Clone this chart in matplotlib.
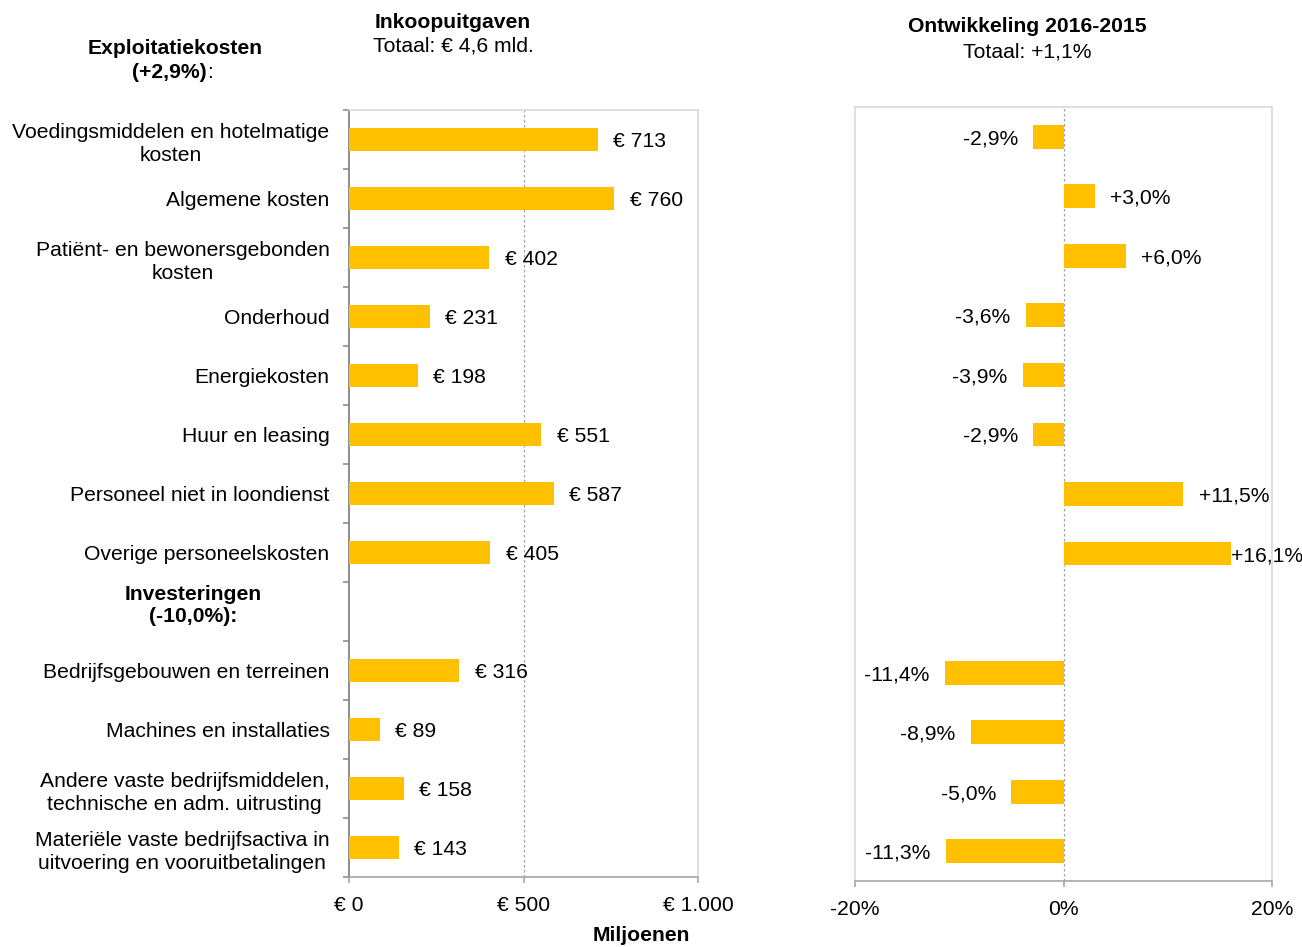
import matplotlib
matplotlib.use("Agg")
import matplotlib.pyplot as plt
import numpy as np

plt.rcParams['font.family'] = ['Liberation Sans', 'DejaVu Sans']

categories = [
    "Voedingsmiddelen en hotelmatige\nkosten",
    "Algemene kosten",
    "Patiënt- en bewonersgebonden\nkosten",
    "Onderhoud",
    "Energiekosten",
    "Huur en leasing",
    "Personeel niet in loondienst",
    "Overige personeelskosten",
    "",
    "Bedrijfsgebouwen en terreinen",
    "Machines en installaties",
    "Andere vaste bedrijfsmiddelen,\ntechnische en adm. uitrusting",
    "Materiële vaste bedrijfsactiva in\nuitvoering en vooruitbetalingen",
]
spend = [713, 760, 402, 231, 198, 551, 587, 405, None, 316, 89, 158, 143]
change = [-2.9, 3.0, 6.0, -3.6, -3.9, -2.9, 11.5, 16.1, None, -11.4, -8.9, -5.0, -11.3]
left_xticks = [0, 500, 1000]
left_xticklabels = ["€ 0", "€ 500", "€ 1.000"]
right_xticks = [-20, 0, 20]
right_xticklabels = ["-20%", "0%", "20%"]

BAR = "#FFC000"
FS = 15.2
W, H = 1302, 947
fig = plt.figure(figsize=(W / 100, H / 100), dpi=100)

def rect(x0, y0, x1, y1):
    return [x0 / W, 1 - y1 / H, (x1 - x0) / W, (y1 - y0) / H]

axL = fig.add_axes(rect(349, 110, 698, 877))
axR = fig.add_axes(rect(855, 107, 1272, 881))

n = len(categories)
ypos = np.arange(n)

# Left chart
for i, v in enumerate(spend):
    if v is None:
        continue
    axL.barh(ypos[i], v, height=0.4, color=BAR, zorder=3)
    axL.annotate(f"€ {v}", xy=(v, ypos[i]), xytext=(11, 0), textcoords="offset points",
                 ha="left", va="center_baseline", fontsize=FS, zorder=4)
axL.set_xlim(0, 1000)
axL.set_ylim(n - 0.5, -0.5)
axL.axvline(500, color="#a0a0a0", linestyle=(0, (2, 2)), linewidth=0.9, zorder=1)
axL.set_xticks(left_xticks)
axL.set_xticklabels(left_xticklabels, fontsize=FS)
axL.set_yticks(ypos)
axL.set_yticklabels(categories, fontsize=FS, multialignment="center", linespacing=1.3)
axL.set_yticks(np.arange(-0.5, n, 1), minor=True)
axL.tick_params(axis="y", which="major", length=0, pad=14)
axL.tick_params(axis="y", which="minor", length=4.5, width=1.2, color="#8c8c8c", direction="out")
axL.tick_params(axis="x", length=4.5, width=1.2, color="#a6a6a6", pad=9)
axL.spines["left"].set_color("#8c8c8c")
axL.spines["left"].set_linewidth(1.4)
axL.spines["bottom"].set_color("#a6a6a6")
axL.spines["bottom"].set_linewidth(1.2)
for s in ("top", "right"):
    axL.spines[s].set_color("#d9d9d9")
    axL.spines[s].set_linewidth(1.2)

# Right chart
for i, v in enumerate(change):
    if v is None:
        continue
    axR.barh(ypos[i], v, height=0.4, color=BAR, zorder=3)
    lab = f"{v:+.1f}%".replace(".", ",")
    if v < 0:
        axR.annotate(lab, xy=(v, ypos[i]), xytext=(-11, 0), textcoords="offset points",
                     ha="right", va="center_baseline", fontsize=FS, zorder=4)
    else:
        off = 0 if v > 15 else 11
        axR.annotate(lab, xy=(v, ypos[i]), xytext=(off, 0), textcoords="offset points",
                     ha="left", va="center_baseline", fontsize=FS, zorder=4, annotation_clip=False)
axR.set_xlim(-20, 20)
axR.set_ylim(n - 0.5, -0.5)
axR.axvline(0, color="#a0a0a0", linestyle=(0, (2, 2)), linewidth=0.9, zorder=1)
axR.set_xticks(right_xticks)
axR.set_xticklabels(right_xticklabels, fontsize=FS)
axR.set_yticks([])
axR.tick_params(axis="x", length=4.5, width=1.2, color="#a6a6a6", pad=9)
for s in ("top", "right", "left"):
    axR.spines[s].set_color("#d9d9d9")
    axR.spines[s].set_linewidth(1.2)
axR.spines["bottom"].set_color("#a6a6a6")
axR.spines["bottom"].set_linewidth(1.2)

# Titles and headers
fig.text(453 / W, 1 - 22 / H, "Inkoopuitgaven", ha="center", va="center", fontsize=FS, fontweight="bold")
fig.text(453 / W, 1 - 46 / H, "Totaal: € 4,6 mld.", ha="center", va="center", fontsize=FS)
fig.text(1027 / W, 1 - 27 / H, "Ontwikkeling 2016-2015", ha="center", va="center", fontsize=FS, fontweight="bold")
fig.text(1027 / W, 1 - 52 / H, "Totaal: +1,1%", ha="center", va="center", fontsize=FS)
fig.text(175 / W, 1 - 48 / H, "Exploitatiekosten", ha="center", va="center", fontsize=FS, fontweight="bold")
fig.text(207 / W, 1 - 72 / H, "(+2,9%)", ha="right", va="center", fontsize=FS, fontweight="bold")
fig.text(207 / W, 1 - 72 / H, ":", ha="left", va="center", fontsize=FS)
fig.text(193 / W, 1 - 606 / H, "Investeringen\n(-10,0%):", ha="center", va="center",
         fontsize=FS, fontweight="bold", linespacing=1.2)
fig.text(641 / W, 1 - 935 / H, "Miljoenen", ha="center", va="center", fontsize=FS, fontweight="bold")

fig.savefig("out.png", dpi=100)
